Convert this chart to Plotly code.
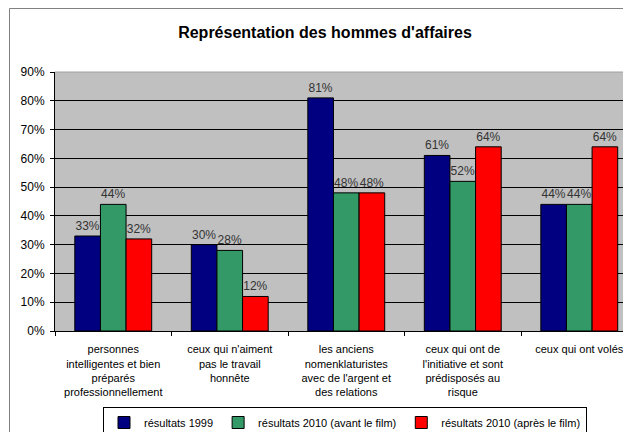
import plotly.graph_objects as go

categories = [
    "personnes<br>intelligentes et bien<br>préparés<br>professionnellement",
    "ceux qui n'aiment<br>pas le travail<br>honnête",
    "les anciens<br>nomenklaturistes<br>avec de l'argent et<br>des relations",
    "ceux qui ont de<br>l'initiative et sont<br>prédisposés au<br>risque",
    "ceux qui ont volés",
]
series_names = [
    "résultats 1999",
    "résultats 2010 (avant le film)",
    "résultats 2010 (après le film)",
]
values_1999 = [0.33, 0.30, 0.81, 0.61, 0.44]
values_2010_avant = [0.44, 0.28, 0.48, 0.52, 0.44]
values_2010_apres = [0.32, 0.12, 0.48, 0.64, 0.64]
colors = ["#000080", "#339966", "#FF0000"]

FONT = "Liberation Sans, Arial, sans-serif"

# figure is offset by the page's 8px body margin, so it is sized 623x424
W, H = 623, 424
L, T, B = 47, 64, 101
PW, PH = W - L, H - T - B  # 576 x 259

fig = go.Figure()
for name, vals, col in zip(series_names, [values_1999, values_2010_avant, values_2010_apres], colors):
    fig.add_trace(go.Bar(
        x=categories, y=vals, name=name,
        marker=dict(color=col, line=dict(color="black", width=1)),
        text=vals, texttemplate="%{y:.0%}", textposition="outside",
        textfont=dict(family=FONT, size=12, color="#333333"),
        constraintext="none", cliponaxis=False,
    ))

fig.update_layout(
    width=W, height=H,
    margin=dict(l=L, r=0, t=T, b=B, autoexpand=False),
    paper_bgcolor="white", plot_bgcolor="#C0C0C0",
    barmode="group", bargap=0.34, bargroupgap=0,
    font=dict(family=FONT, size=12, color="black"),
    title=dict(text="<b>Représentation des hommes d'affaires</b>",
               x=317 / W, xanchor="center", xref="container",
               y=1 - 24 / H, yanchor="middle", yref="container",
               font=dict(family=FONT, size=16, color="black")),
    legend=dict(orientation="h", x=(345 - 55) / PW, xanchor="center",
                y=(331 - 407) / PH, yanchor="top",
                bordercolor="black", borderwidth=1, bgcolor="white",
                font=dict(family=FONT, size=11, color="black"),
                itemwidth=30, tracegroupgap=0),
    xaxis=dict(type="category", range=[-0.5, 4.444], tickson="boundaries",
               ticks="outside", ticklen=4, tickcolor="black",
               showline=True, linecolor="black", linewidth=1,
               showgrid=False, ticklabelstandoff=8, tickangle=0,
               tickfont=dict(family=FONT, size=11, color="black")),
    yaxis=dict(range=[0, 0.9], dtick=0.1, tickformat=".0%",
               ticks="outside", ticklen=4, tickcolor="black",
               showline=True, linecolor="black", linewidth=1,
               showgrid=True, gridcolor="black", gridwidth=1,
               zeroline=False, ticklabelstandoff=3,
               tickfont=dict(family=FONT, size=12, color="black")),
    shapes=[
        dict(type="rect", xref="paper", yref="paper",
             x0=(1.5 - L) / PW, x1=1.2, y0=-0.5, y1=(PH + T - 0.5) / PH,
             line=dict(color="#808080", width=1), layer="below"),
        dict(type="line", xref="paper", yref="paper",
             x0=0, x1=1, y0=1, y1=1,
             line=dict(color="#A0A0A0", width=1), layer="above"),
    ],
)

fig.write_html("out.html")
